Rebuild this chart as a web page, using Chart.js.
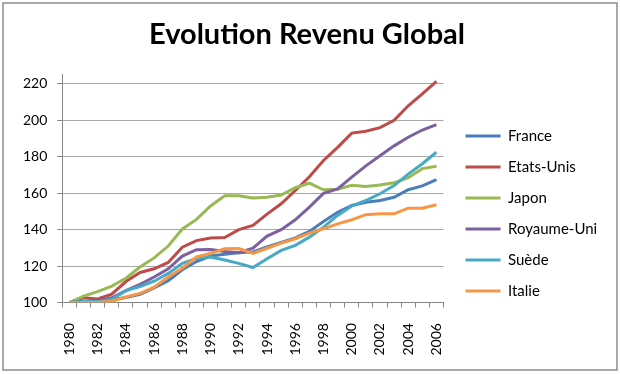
<!DOCTYPE html>
<html><head><meta charset="utf-8">
<script src="https://cdn.jsdelivr.net/npm/chart.js@4.4.1/dist/chart.umd.min.js"></script>
<style>html,body{margin:0;padding:0;background:#fff}#wrap{width:620px;height:374px}</style>
</head><body><div id="wrap"><canvas id="c" width="620" height="374"></canvas></div>
<script>
const years = ['1980','1981','1982','1983','1984','1985','1986','1987','1988','1989','1990','1991','1992','1993','1994','1995','1996','1997','1998','1999','2000','2001','2002','2003','2004','2005','2006'];
const shownYears = ['1980','1982','1984','1986','1988','1990','1992','1994','1996','1998','2000','2002','2004','2006'];
const seriesNames = ['France','Etats-Unis','Japon','Royaume-Uni','Suède','Italie'];
const france     = [100,100.5,101,101.5,102.8,104.5,108,112,118,122.5,125.5,126.5,127.3,127.8,130.5,133,135.5,139,144.5,149.5,153.3,155,156,157.8,161.9,164,167.5];
const etatsUnis  = [100,102.6,102,104.6,111.5,116.5,118.5,122,130.4,134,135.4,135.7,140,142.3,148.5,154.2,161.5,169,178,185.2,193,194,196,200,208,214.5,221.4];
const japon      = [100,103.5,106,109,113.3,119.5,124.5,131,140.4,145.6,153,158.6,158.6,157.4,157.8,159,163,165.5,161.9,162.2,164.4,163.7,164.5,165.7,168.5,173.5,174.8];
const royaumeUni = [100,100.5,100.8,102.6,106.5,110,114,118.5,125.5,129,129.1,128,127.3,129.8,136.5,140,145.4,152.4,159.9,162.4,168.8,175,180.6,186,190.7,194.7,197.6];
const suede      = [100,100.5,100.5,101.8,106.5,108.8,111.7,116,121.5,124.2,125,123.3,121.5,119.2,124,128.6,131.4,135.9,141.4,147.8,153,156,159.7,164.2,170.5,176.2,182.5];
const italie     = [100,100,100,100.7,103,105,108.4,114,119,125,127,129.5,129.6,127,129.8,132.6,135,138.1,140.5,143.2,145.4,148.2,148.7,148.7,151.8,151.8,153.7];
const colors = ['#4a7ebb','#be4b48','#98b954','#7d60a0','#46aac5','#f79646'];
const allSeries = [france, etatsUnis, japon, royaumeUni, suede, italie];

const framePlugin = {
  id: 'frame',
  afterLayout(chart) {
    const l = chart.legend;
    if (l) { l.top += 24; l.bottom += 24; l.left += 6; l.right = chart.width; }
    const t = chart.titleBlock;
    if (t) { t.left += 7; t.right += 7; }
  },
  beforeDraw(chart) {
    const ctx = chart.ctx;
    ctx.save();
    ctx.fillStyle = '#fff';
    ctx.fillRect(0, 0, chart.width, chart.height);
    ctx.strokeStyle = '#8c8c8c';
    ctx.lineWidth = 1.5;
    ctx.strokeRect(3, 3, 614, 367);
    ctx.restore();
  }
};

new Chart(document.getElementById('c'), {
  type: 'line',
  data: {
    labels: years,
    datasets: allSeries.map((d, i) => ({
      label: seriesNames[i],
      data: d,
      borderColor: colors[i],
      backgroundColor: colors[i],
      borderWidth: 3,
      pointRadius: 0,
      tension: 0,
      fill: false,
      order: 5 - i
    }))
  },
  options: {
    responsive: false,
    animation: false,
    devicePixelRatio: 1,
    layout: { padding: { left: 13, right: 33, top: 8, bottom: 3 } },
    plugins: {
      tooltip: { enabled: false },
      title: {
        display: true,
        text: 'Evolution Revenu Global',
        color: '#000',
        font: { family: 'Lato', size: 29, weight: 'bold' },
        padding: { top: 9, bottom: 23 }
      },
      legend: {
        position: 'right',
        labels: {
          color: '#000',
          font: { family: 'Lato', size: 15 },
          boxWidth: 35,
          boxHeight: 3,
          padding: 16,
          generateLabels(chart) {
            const items = Chart.defaults.plugins.legend.labels.generateLabels(chart);
            items.forEach(it => { it.lineWidth = 0; it.fillStyle = it.strokeStyle; });
            return items.sort((a, b) => a.datasetIndex - b.datasetIndex);
          }
        }
      }
    },
    scales: {
      x: {
        type: 'category',
        offset: true,
        border: { color: '#868686', width: 1 },
        grid: { display: true, drawOnChartArea: false, offset: true, tickLength: 5, color: '#868686' },
        ticks: {
          autoSkip: false,
          minRotation: 90,
          maxRotation: 90,
          padding: 15.5,
          color: '#000',
          font: { family: 'Lato', size: 14 },
          callback(value, index) { const l = years[index]; return shownYears.includes(l) ? l : ''; }
        }
      },
      y: {
        min: 100,
        max: 225,
        border: { color: '#868686', width: 1 },
        grid: { color: '#a8a8a8', tickColor: '#868686', tickLength: 5 },
        ticks: {
          stepSize: 20,
          includeBounds: false,
          padding: 10,
          color: '#000',
          font: { family: 'Lato', size: 14 }
        }
      }
    }
  },
  plugins: [framePlugin]
});
</script>
</body></html>
